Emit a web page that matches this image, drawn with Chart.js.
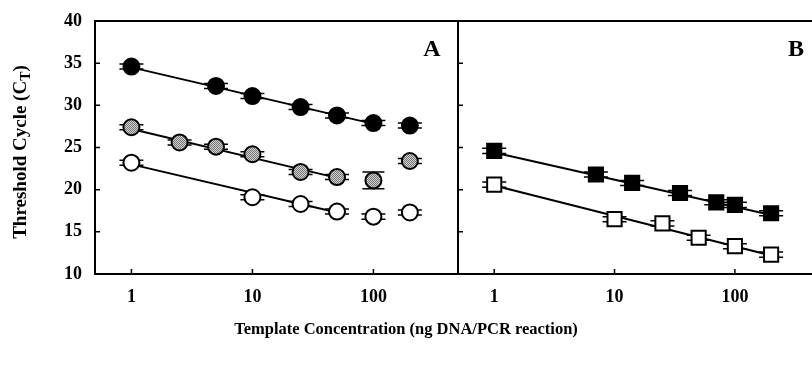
<!DOCTYPE html>
<html>
<head>
<meta charset="utf-8">
<script src="https://cdn.jsdelivr.net/npm/chart.js@4"></script>
<style>
  html, body { margin: 0; padding: 0; background: #fff; overflow: hidden; width: 812px; height: 367px; }
  #wrap { position: relative; width: 812px; height: 367px; overflow: hidden; }
  #chartA { position: absolute; left: 0; top: 0; }
  #chartB { position: absolute; left: 456px; top: 0; }
  #xTitle { position: absolute; left: 0; width: 812px; top: 319px; text-align: center;
            font: bold 16.5px "Liberation Serif", "Times New Roman", serif; color: #000; }
</style>
</head>
<body>
<div id="wrap">
  <canvas id="chartA" width="460" height="367"></canvas>
  <canvas id="chartB" width="365" height="367"></canvas>
  <div id="xTitle">Template Concentration (ng DNA/PCR reaction)</div>
</div>
<script>
// ── data (ng template / PCR reaction vs CT) ──
const X_TICKS = [1, 10, 100];
const Y_TICKS = [10, 15, 20, 25, 30, 35, 40];

// panel A
const aBlackX = [1, 5, 10, 25, 50, 100, 200];
const aBlackY = [34.6, 32.3, 31.1, 29.8, 28.8, 27.9, 27.6];
const aBlackErr = [0.3, 0.3, 0.3, 0.3, 0.3, 0.3, 0.3];
const aGrayX = [1, 2.5, 5, 10, 25, 50, 100, 200];
const aGrayY = [27.4, 25.6, 25.1, 24.2, 22.1, 21.5, 21.1, 23.4];
const aGrayErr = [0.3, 0.3, 0.3, 0.3, 0.3, 0.3, 1.0, 0.3];
const aWhiteX = [1, 10, 25, 50, 100, 200];
const aWhiteY = [23.2, 19.1, 18.3, 17.4, 16.8, 17.3];
const aWhiteErr = [0.3, 0.3, 0.3, 0.3, 0.3, 0.3];
// fitted lines, panel A
const aBlackFitX = [1, 100];
const aBlackFitY = [34.5, 27.8];
const aGrayFitX = [1, 50];
const aGrayFitY = [27.2, 21.4];
const aWhiteFitX = [1, 50];
const aWhiteFitY = [23.0, 17.3];

// panel B
const bBlackX = [1, 7, 14, 35, 70, 100, 200];
const bBlackY = [24.6, 21.8, 20.8, 19.6, 18.5, 18.2, 17.2];
const bBlackErr = [0.3, 0.3, 0.3, 0.3, 0.3, 0.3, 0.3];
const bWhiteX = [1, 10, 25, 50, 100, 200];
const bWhiteY = [20.6, 16.5, 16.0, 14.3, 13.3, 12.3];
const bWhiteErr = [0.3, 0.3, 0.3, 0.3, 0.3, 0.3];
const bBlackFitX = [1, 200];
const bBlackFitY = [24.4, 17.0];
const bWhiteFitX = [1, 200];
const bWhiteFitY = [20.5, 12.2];

const SERIF = '"Liberation Serif", "Times New Roman", serif';
const pts = (xs, ys) => xs.map((x, i) => ({ x, y: ys[i] }));

// stippled grey fill like the printed figure
function stipple() {
  const c = document.createElement('canvas');
  c.width = 2; c.height = 2;
  const g = c.getContext('2d');
  g.fillStyle = '#d0d0d0'; g.fillRect(0, 0, 2, 2);
  g.fillStyle = '#777777';
  g.fillRect(0, 0, 1, 1); g.fillRect(1, 1, 1, 1);
  return g.createPattern(c, 'repeat');
}
const GREY = stipple();

function markers(xs, ys, errs, fill, style, radius) {
  return {
    data: pts(xs, ys), errors: errs, order: 0,
    pointStyle: style, pointRadius: radius, pointHoverRadius: radius,
    backgroundColor: fill, borderColor: '#000', borderWidth: 2, showLine: false
  };
}
function fitLine(xs, ys) {
  return {
    data: pts(xs, ys), order: 1, showLine: true, pointRadius: 0,
    borderColor: '#000', borderWidth: 2, fill: false
  };
}

/* ── plugins ── */
const errorBars = {
  id: 'errorBars',
  beforeDatasetsDraw(chart) {
    const { ctx, scales: { y } } = chart;
    ctx.save();
    ctx.strokeStyle = '#000';
    ctx.lineWidth = 1.5;
    chart.data.datasets.forEach((ds, i) => {
      if (!ds.errors) return;
      chart.getDatasetMeta(i).data.forEach((pt, j) => {
        const e = ds.errors[j], v = ds.data[j].y;
        const top = y.getPixelForValue(v + e), bot = y.getPixelForValue(v - e);
        const w = e > 0.5 ? 11 : 12;
        ctx.beginPath();
        ctx.moveTo(pt.x, top); ctx.lineTo(pt.x, bot);
        ctx.moveTo(pt.x - w, top); ctx.lineTo(pt.x + w, top);
        ctx.moveTo(pt.x - w, bot); ctx.lineTo(pt.x + w, bot);
        ctx.stroke();
      });
    });
    ctx.restore();
  }
};

const frame = {
  id: 'frame',
  afterDraw(chart, args, opts) {
    const { ctx, chartArea: a, scales: { x, y } } = chart;
    ctx.save();
    ctx.strokeStyle = '#000';
    ctx.lineWidth = 2;
    ctx.beginPath();
    ctx.moveTo(a.left - 1, a.top); ctx.lineTo(a.right + 1, a.top);
    if (opts.right) { ctx.moveTo(a.right, a.top); ctx.lineTo(a.right, a.bottom); }
    ctx.stroke();
    // inward tick marks
    ctx.lineWidth = 1.5;
    ctx.beginPath();
    y.ticks.forEach(t => {
      const py = y.getPixelForValue(t.value);
      ctx.moveTo(a.left, py); ctx.lineTo(a.left + 5, py);
    });
    x.ticks.forEach(t => {
      const px = x.getPixelForValue(t.value);
      ctx.moveTo(px, a.bottom); ctx.lineTo(px, a.bottom - 5);
    });
    ctx.stroke();
    // panel letter
    ctx.fillStyle = '#000';
    ctx.font = 'bold 24px ' + SERIF;
    ctx.textAlign = 'center';
    ctx.textBaseline = 'middle';
    ctx.fillText(opts.letter, opts.letterX, 50);
    ctx.restore();
  }
};

const yTitle = {
  id: 'yTitle',
  afterDraw(chart) {
    const { ctx } = chart;
    const main = 'Threshold Cycle (C', sub = 'T', end = ')';
    ctx.save();
    ctx.fillStyle = '#000';
    ctx.translate(21, 152);
    ctx.rotate(-Math.PI / 2);
    ctx.textBaseline = 'middle';
    ctx.textAlign = 'left';
    const big = 'bold 19px ' + SERIF, small = 'bold 14px ' + SERIF;
    ctx.font = big;  const w1 = ctx.measureText(main).width, w3 = ctx.measureText(end).width;
    ctx.font = small; const w2 = ctx.measureText(sub).width;
    let x0 = -(w1 + w2 + w3) / 2;
    ctx.font = big;  ctx.fillText(main, x0, 0); x0 += w1;
    ctx.font = small; ctx.fillText(sub, x0, 5); x0 += w2;
    ctx.font = big;  ctx.fillText(end, x0, 0);
    ctx.restore();
  }
};

function scalesFor(showY) {
  return {
    x: {
      type: 'logarithmic', min: 0.5, max: 500,
      afterBuildTicks: s => { s.ticks = X_TICKS.map(v => ({ value: v })); },
      afterFit: s => { s.height = 93; s.paddingLeft = 0; s.paddingRight = 0; },
      grid: { display: false, drawTicks: false },
      border: { display: true, color: '#000', width: 2 },
      ticks: {
        callback: v => String(v), autoSkip: false, maxRotation: 0, padding: 13,
        color: '#000', font: { family: SERIF, size: 18, weight: 'bold' }
      }
    },
    y: {
      type: 'linear', min: 10, max: 40,
      afterBuildTicks: s => { s.ticks = Y_TICKS.map(v => ({ value: v })); },
      afterFit: s => { s.width = showY ? 95 : 2; s.paddingTop = 0; s.paddingBottom = 0; },
      grid: { display: false, drawTicks: false },
      border: { display: true, color: '#000', width: 2 },
      ticks: {
        display: showY, padding: 13,
        color: '#000', font: { family: SERIF, size: 18, weight: 'bold' }
      }
    }
  };
}

const common = {
  responsive: false,
  animation: false,
  layout: { autoPadding: false, padding: { left: 0, right: 2, top: 21, bottom: 0 } },
  plugins: { legend: { display: false }, tooltip: { enabled: false } }
};

/* ── panel A ── */
new Chart(document.getElementById('chartA'), {
  type: 'scatter',
  data: {
    datasets: [
      markers(aBlackX, aBlackY, aBlackErr, '#000', 'circle', 8),
      markers(aGrayX, aGrayY, aGrayErr, GREY, 'circle', 8),
      markers(aWhiteX, aWhiteY, aWhiteErr, '#fff', 'circle', 8),
      fitLine(aBlackFitX, aBlackFitY),
      fitLine(aGrayFitX, aGrayFitY),
      fitLine(aWhiteFitX, aWhiteFitY)
    ]
  },
  options: {
    ...common,
    scales: scalesFor(true),
    plugins: { ...common.plugins, frame: { right: true, letter: 'A', letterX: 432 } }
  },
  plugins: [errorBars, frame, yTitle]
});

/* ── panel B ── */
new Chart(document.getElementById('chartB'), {
  type: 'scatter',
  data: {
    datasets: [
      markers(bBlackX, bBlackY, bBlackErr, '#000', 'rect', 10),
      markers(bWhiteX, bWhiteY, bWhiteErr, '#fff', 'rect', 10),
      fitLine(bBlackFitX, bBlackFitY),
      fitLine(bWhiteFitX, bWhiteFitY)
    ]
  },
  options: {
    ...common,
    scales: scalesFor(false),
    plugins: { ...common.plugins, frame: { right: false, letter: 'B', letterX: 340 } }
  },
  plugins: [errorBars, frame]
});
</script>
</body>
</html>
